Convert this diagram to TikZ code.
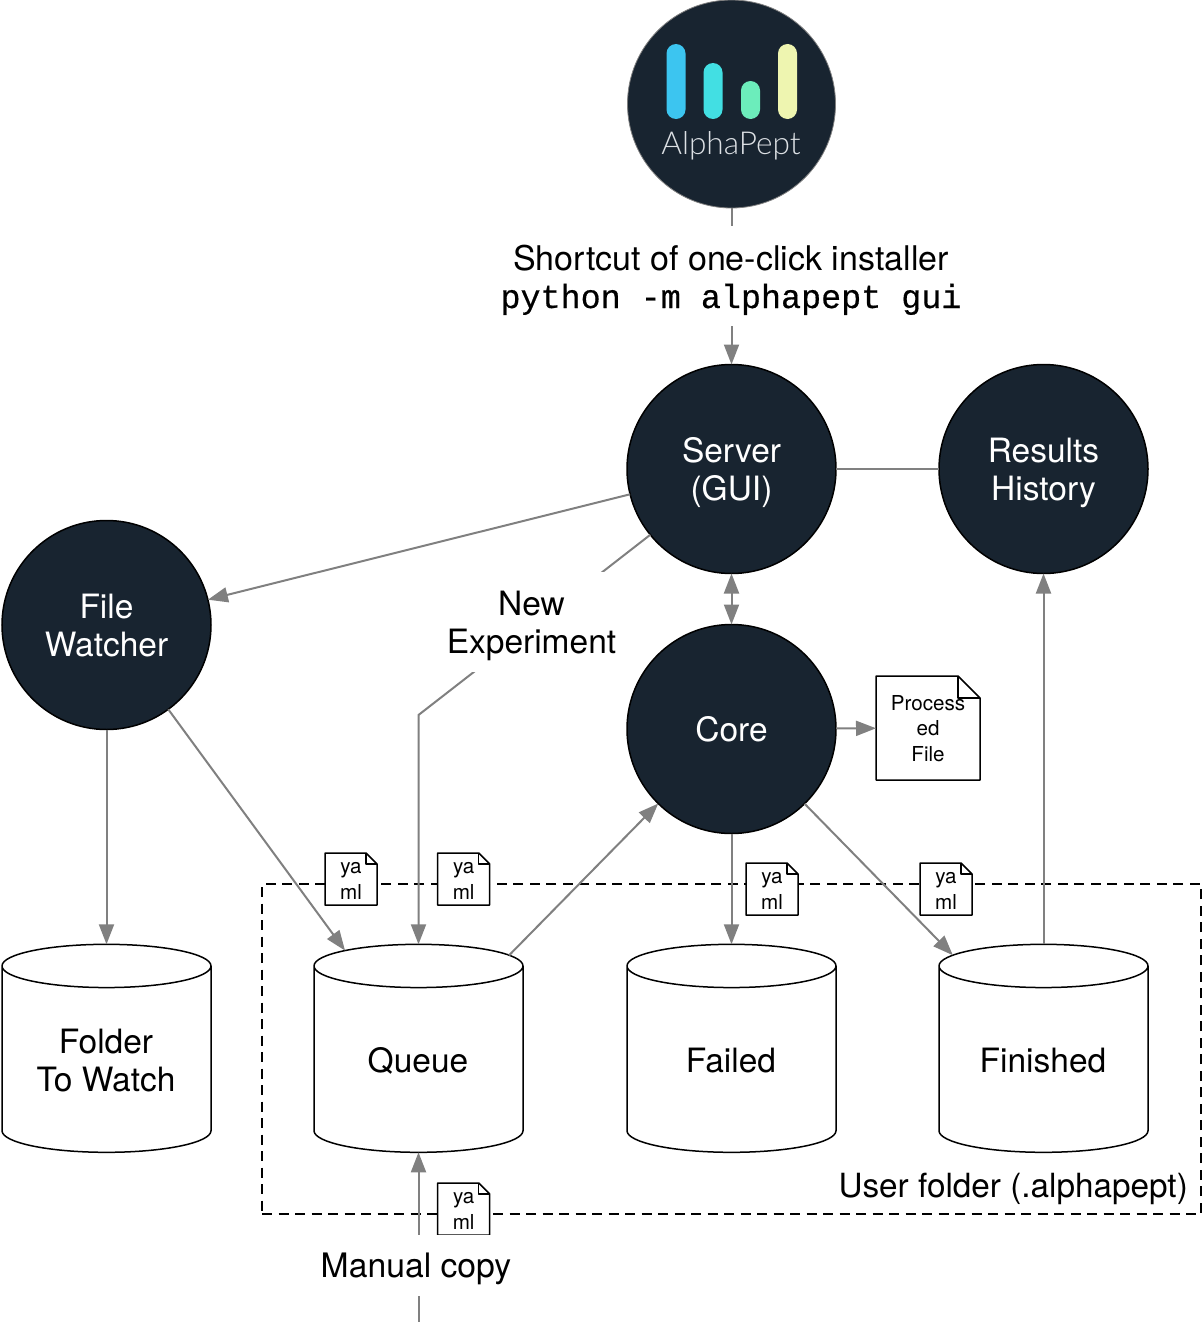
\documentclass[tikz,border=0pt]{standalone}
\usepackage{fontspec}
\setmainfont{TeX Gyre Heros}
\newfontfamily\codefont[FakeBold=0.5]{Liberation Mono}
\newfontfamily\logofont[UprightFont={* Light}]{Lato}
\usetikzlibrary{shapes.geometric,arrows.meta}
\definecolor{navy}{HTML}{182430}
\definecolor{edgegray}{HTML}{808080}
\definecolor{barA}{HTML}{3CC5F0}
\definecolor{barB}{HTML}{42DFE3}
\definecolor{barC}{HTML}{6CEDBB}
\definecolor{barD}{HTML}{EEF5B0}
\definecolor{logotxt}{HTML}{DCE0E4}
\newcommand{\biglin}[1]{\rule{0pt}{24.3pt}\smash{#1}}
\newcommand{\smallin}[1]{\rule{0pt}{15pt}\smash{#1}}
\tikzset{
  x=1pt,y=-1pt,
  main/.style={font=\fontsize{33.5}{38}\selectfont,align=center,inner sep=0pt},
  ball/.style={circle,draw=black,fill=navy,line width=1.5pt,minimum size=209pt,inner sep=0pt,outer sep=0pt,text=white,main},
  drum/.style={cylinder,shape border rotate=90,aspect=0.43,draw=black,fill=white,line width=1.5pt,minimum width=209pt,minimum height=208pt,inner sep=0pt,outer sep=0pt,main},
  link/.style={draw=edgegray,line width=2pt},
  arrow/.style={link,-{Triangle[length=20pt,width=15pt,fill=edgegray]}},
  tworow/.style={link,{Triangle[length=20pt,width=15pt,fill=edgegray]}-{Triangle[length=20pt,width=15pt,fill=edgegray]}},
  sheet/.style={rectangle,fill=white,inner sep=0pt,outer sep=0pt,align=center,font=\fontsize{20.6}{25.5}\selectfont},
  gap/.style={main,fill=white},
  bar/.style={rounded corners=9.5pt,draw=none},
}
\newcommand{\docnode}[5]{%
  \node[sheet,minimum size=#3pt] (#1) at (#2) {#5};
  \draw[line width=1.5pt,line join=round] (#1.north west) -- ([xshift=-#4pt]#1.north east) -- ([yshift=-#4pt]#1.north east) -- (#1.south east) -- (#1.south west) -- cycle;
  \draw[line width=1.5pt,line join=round] ([xshift=-#4pt]#1.north east) |- ([yshift=-#4pt]#1.north east);
}
\begin{document}
\begin{tikzpicture}
\useasboundingbox (0,0) rectangle (1202,1322);
% user folder
\node[draw=black,dashed,dash pattern=on 10pt off 6.5pt,line width=1.5pt,minimum width=939pt,minimum height=330pt,inner sep=0pt,outer sep=0pt] (userfolder) at (731.5,1049) {};
% cylinders
\node[drum] (folder) at (106.5,1059.5) {\phantom{Queue}};
\node[drum] (queue) at (418.5,1059.5) {\phantom{Queue}};
\node[drum] (failed) at (731.5,1059.5) {\phantom{Queue}};
\node[drum] (finished) at (1043.5,1059.5) {\phantom{Queue}};
\node[main] (folderlabel) at (106,1060) {\biglin{Folder}\\\biglin{To Watch}};
\node[main] (queuelabel) at (418,1060) {\biglin{Queue}};
\node[main] (failedlabel) at (731,1060) {\biglin{Failed}};
\node[main] (finishedlabel) at (1043,1060) {\biglin{Finished}};
% circles
\node[circle,draw=gray,fill=navy,line width=0.8pt,minimum size=208pt,inner sep=0pt,outer sep=0pt] (logo) at (731.5,104) {};
\fill[bar,fill=barA] (666.5,44) rectangle (685.5,119);
\fill[bar,fill=barB] (703.5,63) rectangle (722.5,119);
\fill[bar,fill=barC] (741,81) rectangle (760,119);
\fill[bar,fill=barD] (778,44) rectangle (797,119);
\node[text=logotxt,font=\logofont\fontsize{31.6}{38}\selectfont,inner sep=0pt] (logotext) at (731,146) {AlphaPept};
\node[ball] (server) at (731.5,469) {\biglin{Server}\\\biglin{(GUI)}};
\node[ball] (results) at (1043.5,469) {\biglin{Results}\\\biglin{History}};
\node[ball] (watcher) at (106.5,625) {\biglin{File}\\\biglin{Watcher}};
\node[ball] (core) at (731.5,729) {\biglin{Core}};
% files
\docnode{processed}{928,728}{104}{22}{\smallin{Process}\\\smallin{ed}\\\smallin{File}}
% connectors
\coordinate (bend) at (418.5,715);
\coordinate (manual) at (418.5,1322);
\draw[arrow] (logo) -- (server);
\draw[link] (server) -- (results);
\draw[arrow] (server) -- (watcher);
\draw[arrow] (server.219) -- (bend) -- (queue.90);
\draw[tworow] (server) -- (core);
\draw[arrow] (watcher) -- (folder.90);
\draw[arrow] (watcher) -- (queue.124.5);
\draw[arrow] (queue.49.5) -- (core);
\draw[arrow] (core) -- (failed.90);
\draw[arrow] (core) -- (finished.131.8);
\draw[arrow] (finished.90) -- (results);
\draw[arrow] (core) -- (processed);
\draw[arrow] (manual) -- (queue.270);
% yaml files
\docnode{yamlA}{351,879}{52}{11}{\smallin{ya}\\\smallin{ml}}
\docnode{yamlB}{463.7,879}{52}{11}{\smallin{ya}\\\smallin{ml}}
\docnode{yamlC}{772,889}{52}{11}{\smallin{ya}\\\smallin{ml}}
\docnode{yamlD}{946,889}{52}{11}{\smallin{ya}\\\smallin{ml}}
\docnode{yamlE}{463.7,1209}{52}{11}{\smallin{ya}\\\smallin{ml}}
% labels
\node[gap,minimum height=100pt,minimum width=480pt] (launch) at (731,276) {\fontsize{34}{39}\selectfont\rule{0pt}{26pt}\smash{Shortcut of one-click installer}\\{\codefont\fontsize{33.4}{39}\selectfont\biglin{python -m alphapept gui}}};
\node[gap,minimum height=100pt,minimum width=170pt] (newexp) at (531.5,622) {\biglin{New}\\\biglin{Experiment}};
\node[gap,minimum height=61pt,minimum width=200pt] (manuallabel) at (416,1265.5) {\fontsize{33.7}{38}\selectfont\biglin{Manual copy}};
\node[main,anchor=east] (userlabel) at (1188,1185) {\fontsize{33.3}{38}\selectfont\biglin{User folder (.alphapept)}};
\end{tikzpicture}
\end{document}
